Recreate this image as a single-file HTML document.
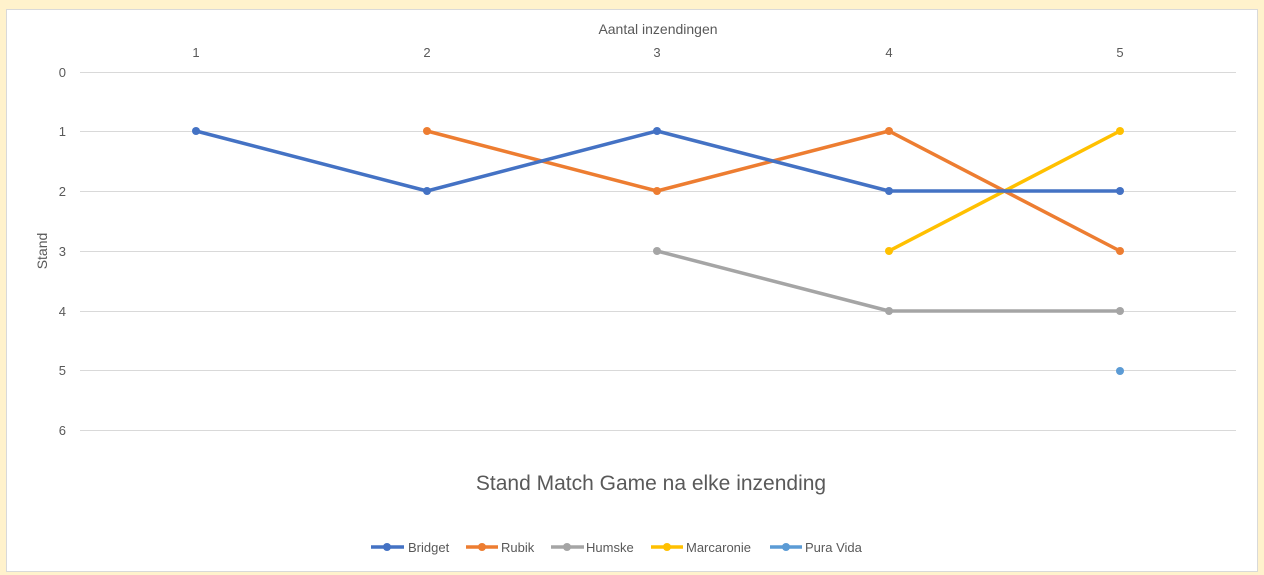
<!DOCTYPE html>
<html><head><style>
body{margin:0;background:#fff2cc;width:1264px;height:575px;overflow:hidden}
svg{position:absolute;left:0;top:0;font-family:"Liberation Sans",sans-serif}
</style></head><body>
<svg width="1264" height="575">
<rect x="0" y="0" width="1264" height="575" fill="#fff2cc"/>
<rect x="6.5" y="9.5" width="1251" height="562" fill="#fff" stroke="#d9d9d9"/>
<g stroke="#d9d9d9" stroke-width="1">
<line x1="80" x2="1236" y1="72.5" y2="72.5"/>
<line x1="80" x2="1236" y1="131.5" y2="131.5"/>
<line x1="80" x2="1236" y1="191.5" y2="191.5"/>
<line x1="80" x2="1236" y1="251.5" y2="251.5"/>
<line x1="80" x2="1236" y1="311.5" y2="311.5"/>
<line x1="80" x2="1236" y1="370.5" y2="370.5"/>
<line x1="80" x2="1236" y1="430.5" y2="430.5"/>
</g>
<g fill="#595959" font-size="13" text-anchor="end">
<text x="66" y="77">0</text><text x="66" y="136">1</text><text x="66" y="196">2</text>
<text x="66" y="256">3</text><text x="66" y="316">4</text><text x="66" y="375">5</text><text x="66" y="435">6</text>
</g>
<g fill="#595959" font-size="13" text-anchor="middle">
<text x="196" y="57">1</text><text x="427" y="57">2</text><text x="657" y="57">3</text><text x="889" y="57">4</text><text x="1120" y="57">5</text>
<text x="658" y="34" font-size="14">Aantal inzendingen</text>
<text x="651" y="490" font-size="21">Stand Match Game na elke inzending</text>
<text transform="translate(47,251) rotate(-90)" font-size="14">Stand</text>
</g>
<g fill="none" stroke-width="3.5" stroke-linejoin="round">
<polyline stroke="#a5a5a5" points="657,251 889,311 1120,311"/>
<polyline stroke="#ffc000" points="889,251 1120,131"/>
<polyline stroke="#ed7d31" points="427,131 657,191 889,131 1120,251"/>
<polyline stroke="#4472c4" points="196,131 427,191 657,131 889,191 1120,191"/>
</g>
<g fill="#a5a5a5"><circle cx="657" cy="251" r="4"/><circle cx="889" cy="311" r="4"/><circle cx="1120" cy="311" r="4"/></g>
<g fill="#ffc000"><circle cx="889" cy="251" r="4"/><circle cx="1120" cy="131" r="4"/></g>
<g fill="#ed7d31"><circle cx="427" cy="131" r="4"/><circle cx="657" cy="191" r="4"/><circle cx="889" cy="131" r="4"/><circle cx="1120" cy="251" r="4"/></g>
<g fill="#4472c4"><circle cx="196" cy="131" r="4"/><circle cx="427" cy="191" r="4"/><circle cx="657" cy="131" r="4"/><circle cx="889" cy="191" r="4"/><circle cx="1120" cy="191" r="4"/></g>
<circle cx="1120" cy="371" r="4" fill="#5b9bd5"/>
<g stroke-width="3.5">
<line x1="371" x2="404" y1="547" y2="547" stroke="#4472c4"/><circle cx="387" cy="547" r="4" fill="#4472c4"/>
<line x1="466" x2="498" y1="547" y2="547" stroke="#ed7d31"/><circle cx="482" cy="547" r="4" fill="#ed7d31"/>
<line x1="551" x2="584" y1="547" y2="547" stroke="#a5a5a5"/><circle cx="567" cy="547" r="4" fill="#a5a5a5"/>
<line x1="651" x2="683" y1="547" y2="547" stroke="#ffc000"/><circle cx="667" cy="547" r="4" fill="#ffc000"/>
<line x1="770" x2="802" y1="547" y2="547" stroke="#5b9bd5"/><circle cx="786" cy="547" r="4" fill="#5b9bd5"/>
</g>
<g fill="#595959" font-size="13">
<text x="408" y="552">Bridget</text><text x="501" y="552">Rubik</text><text x="586" y="552">Humske</text>
<text x="686" y="552">Marcaronie</text><text x="805" y="552">Pura Vida</text>
</g>
</svg>
</body></html>
